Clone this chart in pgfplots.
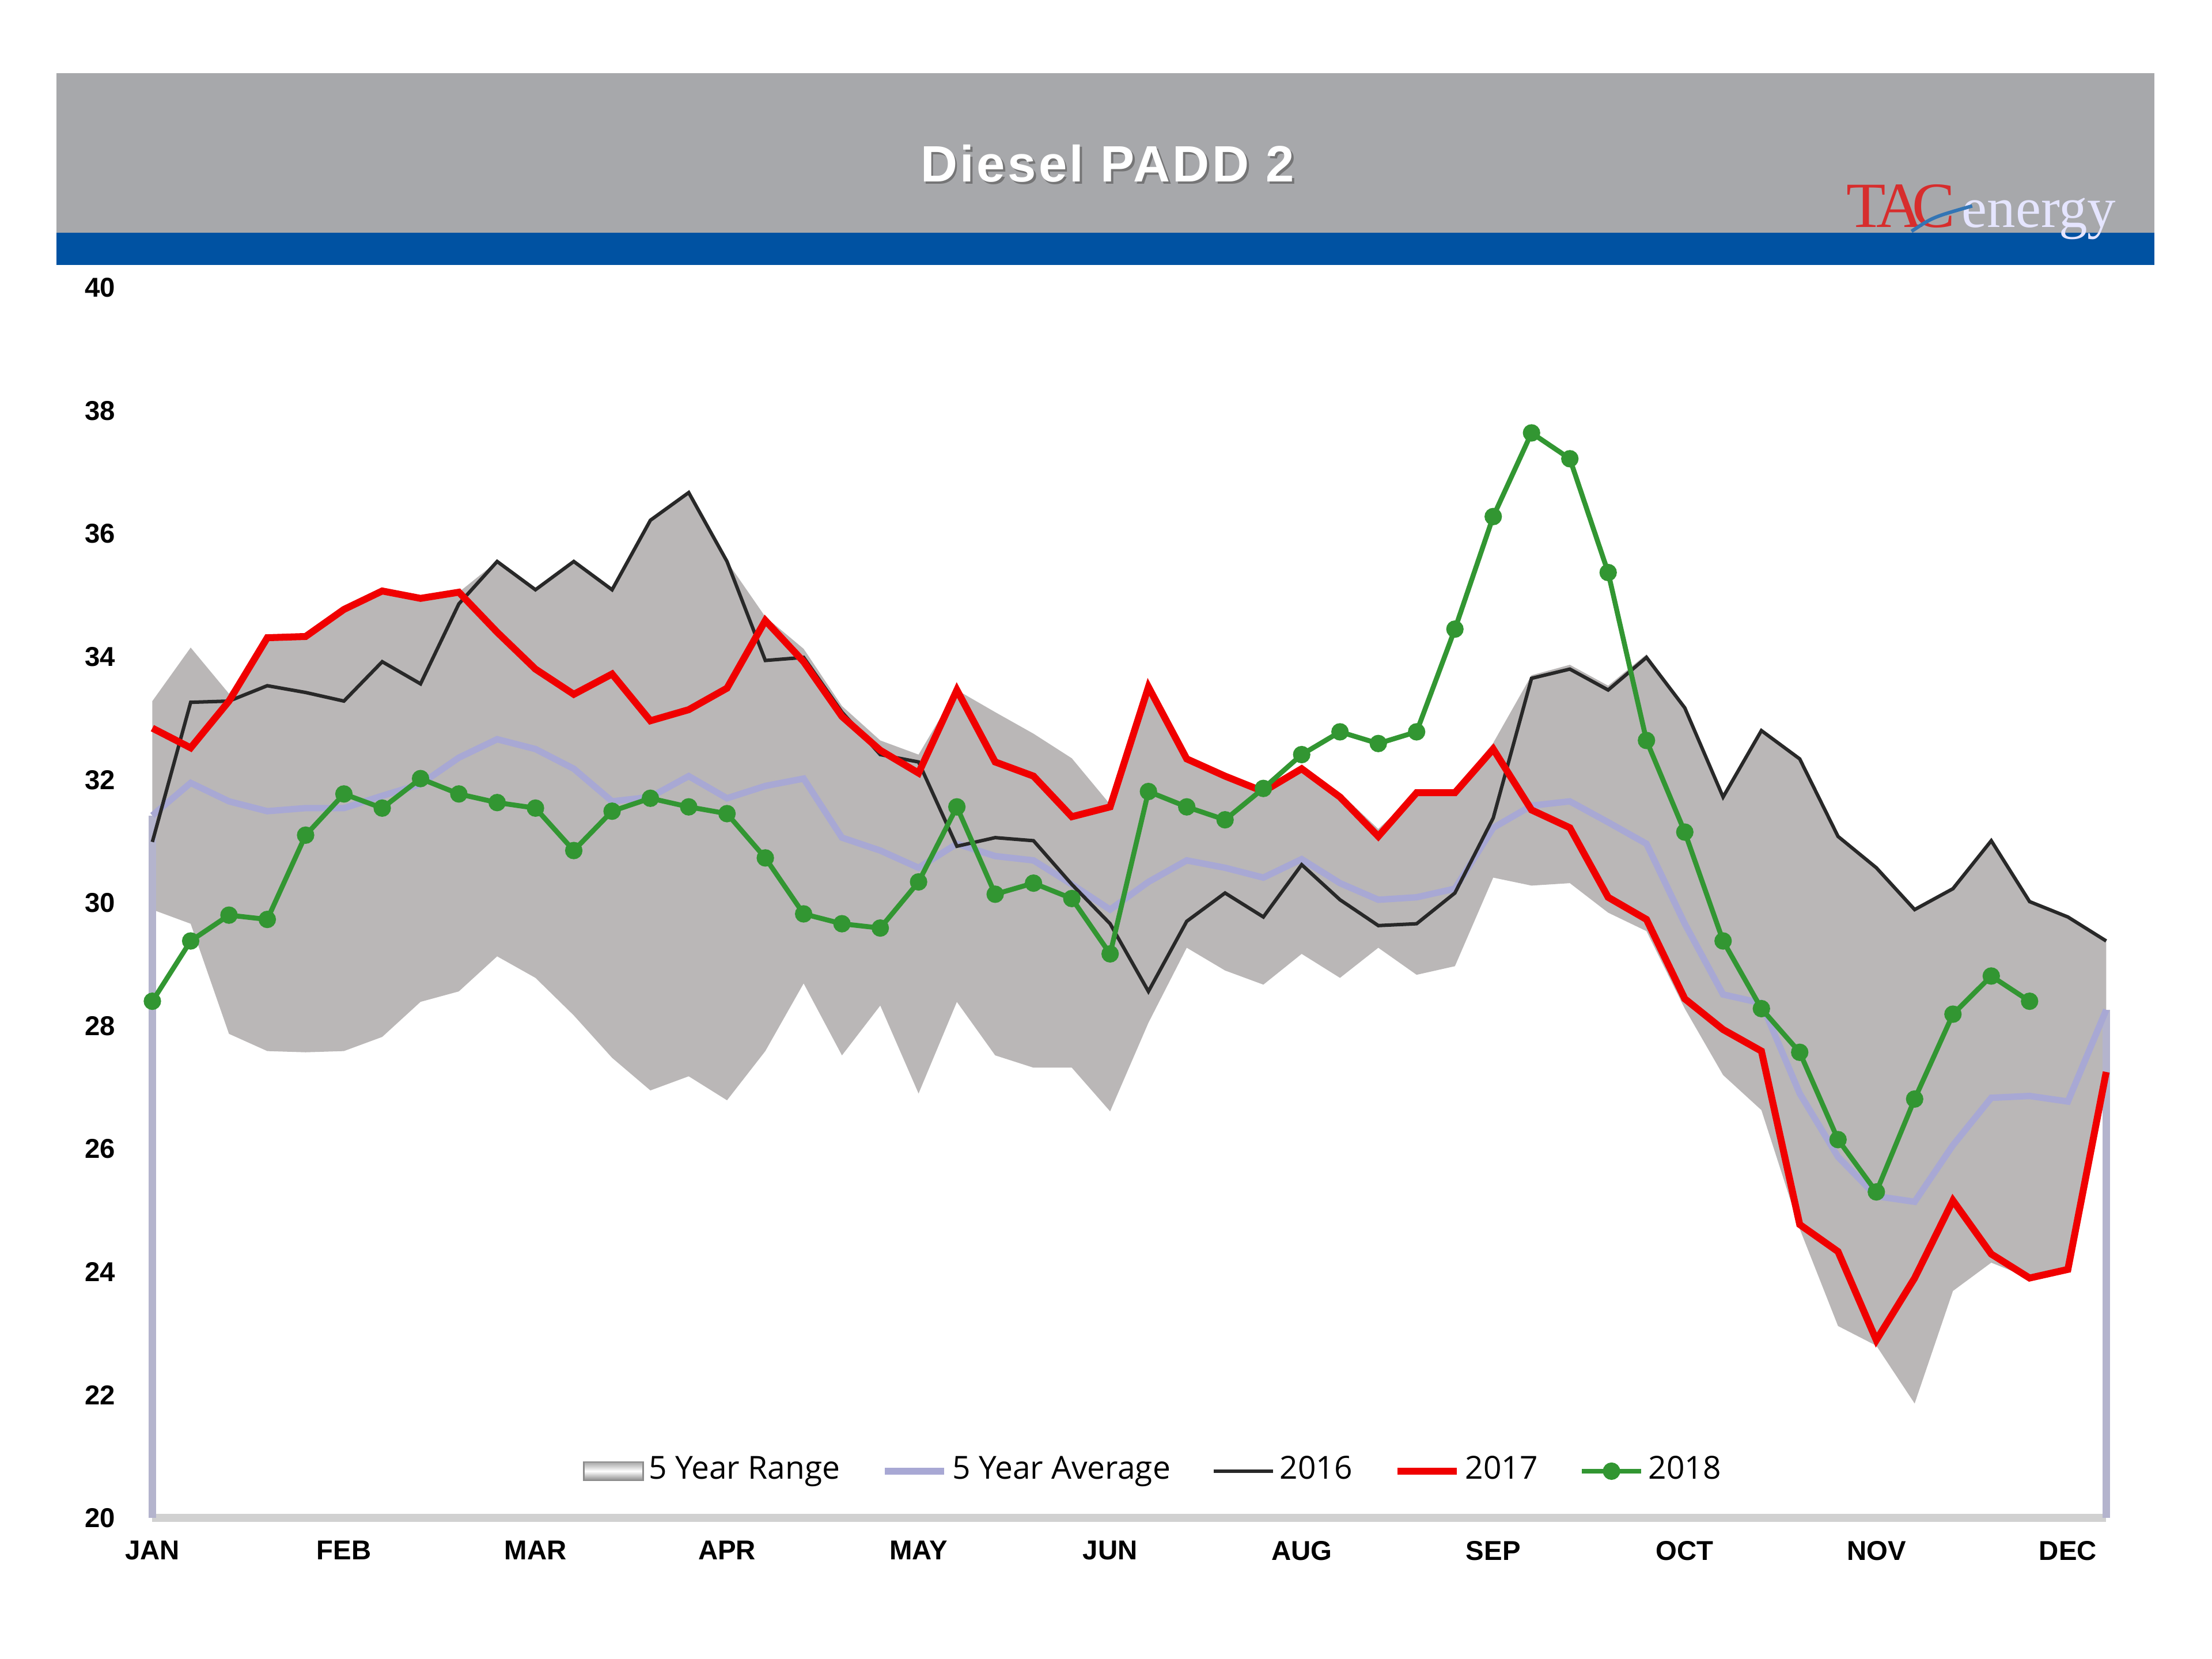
\documentclass[border=0pt]{standalone}
\usepackage{fontspec}
\setmainfont{Liberation Sans}
\newfontfamily\legfont{Open Sans}
\newfontfamily\logofont{Liberation Serif}
\usepackage{pgfplots}
\usepackage{pgfplotstable}
\usepgfplotslibrary{fillbetween}
\pgfplotsset{compat=1.18}
\definecolor{rangegray}{RGB}{186,183,183}
\definecolor{avgcol}{RGB}{168,168,212}
\definecolor{edgecol}{RGB}{180,180,205}
\definecolor{c16}{RGB}{40,40,40}
\definecolor{c17}{RGB}{240,0,0}
\definecolor{c18}{RGB}{50,150,50}
\definecolor{bargray}{RGB}{167,168,171}
\definecolor{barblue}{RGB}{0,82,162}
\definecolor{logored}{RGB}{215,45,45}

\pgfplotstableread{
i lo hi avg y16 y17 y18
0 29.89 33.28 31.42 30.99 32.84 28.40
1 29.66 34.15 31.95 33.26 32.52 29.38
2 27.87 33.40 31.65 33.28 33.28 29.80
3 27.59 34.31 31.49 33.53 34.31 29.73
4 27.57 34.33 31.54 33.42 34.33 31.10
5 27.59 34.77 31.54 33.28 34.77 31.77
6 27.82 35.07 31.74 33.92 35.07 31.54
7 28.39 34.95 31.93 33.56 34.95 32.02
8 28.56 35.05 32.36 34.86 35.05 31.77
9 29.13 35.55 32.66 35.55 34.40 31.63
10 28.78 35.09 32.50 35.09 33.80 31.54
11 28.17 35.55 32.18 35.55 33.39 30.85
12 27.48 35.09 31.65 35.09 33.72 31.49
13 26.95 36.22 31.72 36.22 32.96 31.70
14 27.18 36.67 32.06 36.67 33.14 31.56
15 26.79 35.55 31.70 35.55 33.49 31.45
16 27.59 34.65 31.90 33.94 34.59 30.73
17 28.69 34.13 32.02 33.99 33.92 29.82
18 27.52 33.20 31.06 33.10 33.03 29.66
19 28.33 32.64 30.85 32.41 32.48 29.59
20 26.90 32.41 30.57 32.29 32.11 30.34
21 28.39 33.46 30.96 30.92 33.46 31.56
22 27.52 33.10 30.76 31.06 32.29 30.14
23 27.32 32.75 30.69 31.01 32.06 30.32
24 27.32 32.35 30.30 30.30 31.40 30.07
25 26.61 31.60 29.89 29.66 31.56 29.17
26 28.05 33.51 30.34 28.56 33.51 31.81
27 29.27 32.34 30.69 29.70 32.34 31.56
28 28.90 32.06 30.57 30.16 32.06 31.35
29 28.67 31.81 30.41 29.77 31.81 31.86
30 29.17 32.18 30.71 30.62 32.18 32.41
31 28.78 31.79 30.32 30.05 31.72 32.78
32 29.27 31.20 30.05 29.63 31.08 32.59
33 28.83 31.79 30.09 29.66 31.79 32.78
34 28.97 31.84 30.23 30.16 31.79 34.45
35 30.41 32.60 31.22 31.38 32.50 36.28
36 30.28 33.70 31.58 33.65 31.51 37.64
37 30.32 33.87 31.65 33.80 31.22 37.22
38 29.84 33.53 31.31 33.46 30.09 35.37
39 29.54 34.04 30.96 33.99 29.73 32.64
40 28.28 33.17 29.66 33.17 28.44 31.15
41 27.20 31.72 28.51 31.72 27.94 29.38
42 26.63 32.80 28.37 32.80 27.59 28.28
43 24.70 32.34 26.90 32.34 24.77 27.57
44 23.12 31.08 25.87 31.08 24.33 26.15
45 22.80 30.57 25.23 30.57 22.89 25.30
46 21.86 29.89 25.14 29.89 23.90 26.81
47 23.69 30.23 26.06 30.23 25.16 28.19
48 24.15 31.01 26.83 31.01 24.29 28.81
49 23.90 30.02 26.86 30.02 23.90 28.40
50 24.04 29.77 26.77 29.77 24.04 nan
51 27.25 29.38 28.26 29.38 27.25 nan
}\data

\begin{document}
\begin{tikzpicture}[x=1cm,y=1cm]
\path (0,0) rectangle (15.68,11.76);
% header bar
\fill[bargray] (0.40,10.11) rectangle (15.27,11.24);
\fill[barblue] (0.40,9.88) rectangle (15.27,10.11);
\node[text=black!70, opacity=0.55] at (7.865,10.585) {\fontsize{10.3}{12}\selectfont\bfseries\addfontfeature{LetterSpace=5}Diesel PADD 2};
\node[text=white] at (7.85,10.60) {\fontsize{10.3}{12}\selectfont\bfseries\addfontfeature{LetterSpace=5}Diesel PADD 2};
% logo
\node[anchor=base west, inner sep=0pt, text=logored] at (13.08,10.15) {\logofont\fontsize{13}{14}\selectfont T\kern-1.8pt A\kern-2.2pt C};
\node[anchor=base west, inner sep=0pt, text=white!90!blue] at (13.90,10.15) {\logofont\fontsize{11.5}{13}\selectfont energy};
\draw[barblue!80!white, line width=0.7pt] (13.55,10.12) .. controls (13.70,10.22) .. (13.98,10.30);
\begin{axis}[
  at={(1.08cm,1.00cm)}, anchor=south west,
  width=13.85cm, height=8.72cm, scale only axis,
  xmin=0, xmax=51, ymin=20, ymax=40,
  clip=false,
  axis x line*=bottom, axis y line*=left,
  x axis line style={draw=black!18, line width=1.6pt, -},
  y axis line style={draw=none},
  major tick length=0pt,
  xtick={0,5,...,50},
  xticklabels={JAN,FEB,MAR,APR,MAY,JUN,AUG,SEP,OCT,NOV,DEC},
  ytick={20,22,...,40},
  /pgf/number format/assume math mode=true,
  tick label style={font=\fontsize{5.5}{6}\selectfont\bfseries},
  xticklabel style={yshift=-0.04cm},
  yticklabel style={xshift=-0.14cm},
  legend style={at={(0.513,0.038)}, anchor=center, draw=none, fill=none,
    font=\legfont\fontsize{6.4}{7}\selectfont, legend columns=-1,
    /tikz/every even column/.append style={column sep=0.26cm},
    nodes={inner sep=1pt}},
  legend image code/.code={\draw[mark repeat=2,mark phase=2,#1] plot coordinates {(0cm,0cm) (0.21cm,0cm) (0.42cm,0cm)};},
]
\addplot[draw=none, name path=hi, forget plot] table[x=i,y=hi]{\data};
\addplot[draw=none, name path=lo, forget plot] table[x=i,y=lo]{\data};
\addplot[fill=rangegray, draw=none,
  legend image code/.code={\draw[draw=black!45, line width=0.3pt, top color=black!35, bottom color=black!45, middle color=white] (0cm,-0.065cm) rectangle (0.42cm,0.065cm);}]
  fill between[of=hi and lo];
\addlegendentry{5 Year Range}
\addplot[edgecol, line width=1.5pt, forget plot] coordinates {(0,20) (0,31.42)};
\addplot[edgecol, line width=1.5pt, forget plot] coordinates {(51,28.26) (51,20)};
\addplot[avgcol, line width=1.3pt, no marks] table[x=i,y=avg]{\data};
\addlegendentry{5 Year Average}
\addplot[c16, line width=0.7pt, no marks] table[x=i,y=y16]{\data};
\addlegendentry{2016}
\addplot[c17, line width=1.4pt, no marks] table[x=i,y=y17]{\data};
\addlegendentry{2017}
\addplot[c18, line width=1pt, mark=*, mark size=1.25pt, mark options={fill=c18, draw=c18}] table[x=i,y=y18]{\data};
\addlegendentry{2018}
\end{axis}
\end{tikzpicture}
\end{document}
